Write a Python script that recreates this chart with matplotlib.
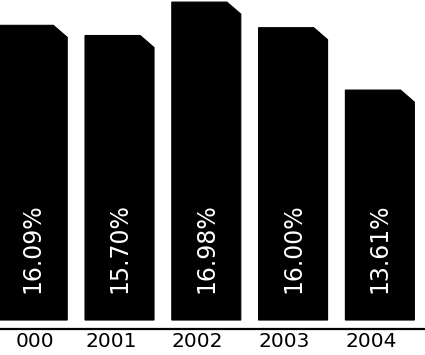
import matplotlib
matplotlib.use("Agg")
import matplotlib.pyplot as plt
from matplotlib.patches import Polygon

# Valores por año (porcentaje); el primer año aparece recortado como "000"
anios = ["000", "2001", "2002", "2003", "2004"]
valores = [16.09, 15.70, 16.98, 16.00, 13.61]
etiquetas = ["16.09%", "15.70%", "16.98%", "16.00%", "13.61%"]

# Eje truncado: las barras arrancan en la base, no en cero
base = 4.80
ancho = 0.795
corte_x = 0.16   # chaflán de la esquina superior derecha
corte_y = 0.46

fig = plt.figure(figsize=(4.25, 3.55), dpi=100)
ax = fig.add_axes([0, 0, 1, 1])
ax.set_xlim(-0.377, 4.52)
ax.set_ylim(3.46, 17.06)
ax.axis("off")

for i, (v, txt) in enumerate(zip(valores, etiquetas)):
    x0 = i - ancho / 2
    x1 = i + ancho / 2
    pts = [(x0, base), (x1, base), (x1, v - corte_y), (x1 - corte_x, v), (x0, v)]
    ax.add_patch(Polygon(pts, closed=True, facecolor="black", edgecolor="black", lw=0.8))
    ax.text(i, base + 1.03, txt, rotation=90, ha="center", va="bottom",
            color="white", fontsize=17, family="DejaVu Sans")
    # el año recortado empieza donde habría terminado el "2"
    xt = x0 + (0.2 if len(anios[i]) < 4 else 0)
    ax.text(xt, 3.99, anios[i], ha="left", va="center", fontsize=14.5,
            color="black", family="DejaVu Sans")

# Línea del eje horizontal
ax.axhline(4.45, color="black", lw=1.6)

fig.savefig("out.png", dpi=100)
